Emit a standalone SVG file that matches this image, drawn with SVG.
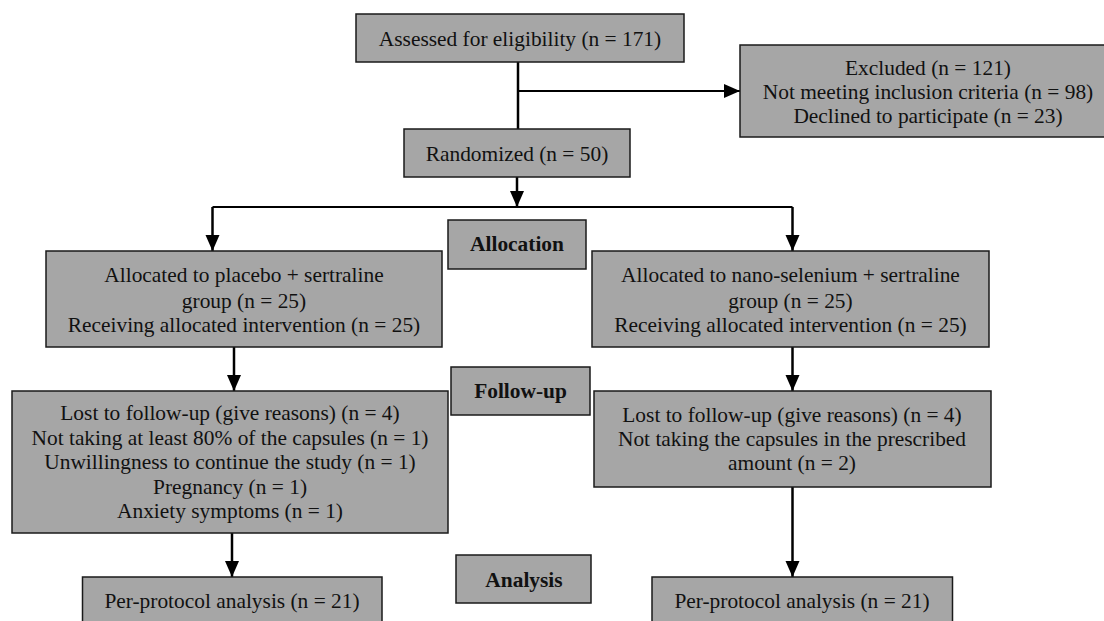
<svg xmlns="http://www.w3.org/2000/svg" width="1104" height="621" viewBox="0 0 1104 621">
<defs>
<style>
.box{fill:#a6a6a6;stroke:#1a1a1a;stroke-width:1.5}
.t{font-family:"Liberation Serif","Times New Roman",serif;font-size:21.4px;fill:#111;text-anchor:middle}
.b{font-weight:bold}
.c{fill:none;stroke:#000;stroke-width:2.5}
.h{fill:none;stroke:#000;stroke-width:2}
</style>
<marker id="ah" markerUnits="userSpaceOnUse" markerWidth="18" markerHeight="15" refX="16" refY="7" orient="auto">
<path d="M0,0 L16,7 L0,14 z" fill="#000"/>
</marker>
</defs>
<rect width="1104" height="621" fill="#fff"/>
<g id="connectors">
<line class="c" x1="518" y1="62" x2="518" y2="129"/>
<line class="h" x1="518" y1="91" x2="740" y2="91" marker-end="url(#ah)"/>
<line class="c" x1="517" y1="177" x2="517" y2="207" marker-end="url(#ah)"/>
<polyline class="h" points="212.5,207 792.5,207"/>
<line class="c" x1="212.5" y1="207" x2="212.5" y2="251" marker-end="url(#ah)"/>
<line class="c" x1="792.5" y1="207" x2="792.5" y2="251" marker-end="url(#ah)"/>
<line class="c" x1="234" y1="347" x2="234" y2="391" marker-end="url(#ah)"/>
<line class="c" x1="792.5" y1="347" x2="792.5" y2="391" marker-end="url(#ah)"/>
<line class="c" x1="232" y1="533" x2="232" y2="577" marker-end="url(#ah)"/>
<line class="c" x1="792.5" y1="487" x2="792.5" y2="577" marker-end="url(#ah)"/>
</g>
<g id="assessed">
<rect class="box" x="356" y="14" width="328" height="48"/>
<text class="t" x="520" y="46">Assessed for eligibility (n = 171)</text>
</g>
<g id="excluded">
<rect class="box" x="740" y="45" width="376" height="92"/>
<text class="t" x="928" y="75">Excluded (n = 121)</text>
<text class="t" x="928" y="99">Not meeting inclusion criteria (n = 98)</text>
<text class="t" x="928" y="123">Declined to participate (n = 23)</text>
</g>
<g id="randomized">
<rect class="box" x="404" y="129" width="226" height="48"/>
<text class="t" x="517" y="161">Randomized (n = 50)</text>
</g>
<g id="allocation">
<rect class="box" x="448" y="220" width="138" height="49"/>
<text class="t b" x="517" y="251">Allocation</text>
</g>
<g id="alloc-placebo">
<rect class="box" x="46" y="251" width="396" height="96"/>
<text class="t" x="244" y="282">Allocated to placebo + sertraline</text>
<text class="t" x="244" y="307.5">group (n = 25)</text>
<text class="t" x="244" y="332">Receiving allocated intervention (n = 25)</text>
</g>
<g id="alloc-nano">
<rect class="box" x="592" y="251" width="397" height="96"/>
<text class="t" x="790.5" y="282">Allocated to nano-selenium + sertraline</text>
<text class="t" x="790.5" y="307.5">group (n = 25)</text>
<text class="t" x="790.5" y="332">Receiving allocated intervention (n = 25)</text>
</g>
<g id="followup">
<rect class="box" x="451" y="367" width="139" height="48"/>
<text class="t b" x="520.5" y="398">Follow-up</text>
</g>
<g id="lost-placebo">
<rect class="box" x="12" y="391" width="436" height="142"/>
<text class="t" x="230" y="420">Lost to follow-up (give reasons) (n = 4)</text>
<text class="t" x="230" y="444.5">Not taking at least 80% of the capsules (n = 1)</text>
<text class="t" x="230" y="469">Unwillingness to continue the study (n = 1)</text>
<text class="t" x="230" y="493.5">Pregnancy (n = 1)</text>
<text class="t" x="230" y="518">Anxiety symptoms (n = 1)</text>
</g>
<g id="lost-nano">
<rect class="box" x="594" y="391" width="397" height="96"/>
<text class="t" x="792" y="422">Lost to follow-up (give reasons) (n = 4)</text>
<text class="t" x="792" y="446">Not taking the capsules in the prescribed</text>
<text class="t" x="792" y="470">amount (n = 2)</text>
</g>
<g id="analysis">
<rect class="box" x="456" y="555" width="135" height="48"/>
<text class="t b" x="524" y="587">Analysis</text>
</g>
<g id="pp-placebo">
<rect class="box" x="82.5" y="577" width="299.5" height="52"/>
<text class="t" x="232" y="608">Per-protocol analysis (n = 21)</text>
</g>
<g id="pp-nano">
<rect class="box" x="652" y="577" width="300.5" height="52"/>
<text class="t" x="802" y="608">Per-protocol analysis (n = 21)</text>
</g>
</svg>
